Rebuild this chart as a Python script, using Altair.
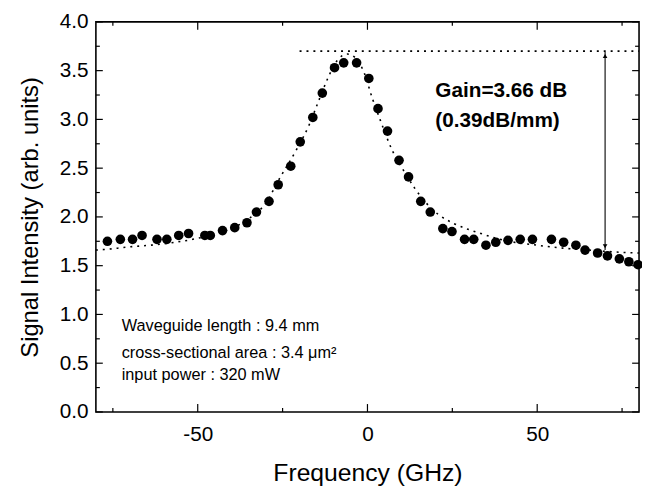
import altair as alt
import pandas as pd

# measured signal (GHz, arb. units)
freq = [-76.6, -72.8, -69.2, -66.4, -62.0, -59.1, -55.6, -52.7, -47.9, -46.3,
        -42.7, -39.1, -35.5, -32.7, -29.0, -26.3, -22.6, -19.8, -16.1, -13.3,
        -9.7, -7.0, -3.2, 0.4, 3.1, 5.9, 9.3, 12.1, 15.7, 18.5,
        22.2, 24.9, 28.6, 31.3, 34.9, 37.8, 41.4, 45.0, 48.6, 54.2,
        57.8, 61.4, 64.1, 67.8, 70.7, 74.2, 77.0, 79.7]
signal = [1.75, 1.77, 1.77, 1.81, 1.77, 1.77, 1.81, 1.83, 1.81, 1.81,
          1.86, 1.89, 1.94, 2.05, 2.16, 2.33, 2.52, 2.77, 3.02, 3.27,
          3.53, 3.58, 3.58, 3.42, 3.11, 2.88, 2.58, 2.41, 2.16, 2.05,
          1.88, 1.85, 1.77, 1.77, 1.71, 1.74, 1.76, 1.77, 1.77, 1.77,
          1.74, 1.71, 1.66, 1.63, 1.60, 1.57, 1.54, 1.51]

# dotted fit curve
fit_x = [-80, -77.7, -70.9, -61.2, -51.5, -41.8, -35.0, -30.0, -25.8, -20.9,
         -17.1, -14.6, -11.7, -8.8, -5.9, -3.5, -1.1, 1.4, 3.8, 7.2,
         11.1, 14.0, 20.7, 25.6, 33.4, 40.3, 50.0, 57.6, 65.4, 73.1, 80]
fit_y = [1.66, 1.665, 1.69, 1.72, 1.77, 1.86, 1.98, 2.14, 2.40, 2.69,
         2.95, 3.17, 3.42, 3.61, 3.67, 3.63, 3.49, 3.22, 2.99, 2.69,
         2.45, 2.29, 2.03, 1.93, 1.83, 1.76, 1.71, 1.68, 1.66, 1.64, 1.63]

# gain reference line and arrow
ref_x = [-20, 80]
ref_y = 3.70
arrow_x = 70
arrow_top = 3.69
arrow_bottom = 1.66

# ticks
x_major = [-50, 0, 50]
x_minor = [-75, -25, 25, 75]
y_major = [0.0, 0.5, 1.0, 1.5, 2.0, 2.5, 3.0, 3.5, 4.0]
y_minor = [0.25, 0.75, 1.25, 1.75, 2.25, 2.75, 3.25, 3.75]

# annotations
gain_lines = ["Gain=3.66 dB", "(0.39dB/mm)"]
gain_x = [20, 20]
gain_y = [3.29, 2.98]
info_lines = ["Waveguide length : 9.4 mm",
              "cross-sectional area : 3.4 \u03bcm\u00b2",
              "input power : 320 mW"]
info_x = [-72.4, -72.4, -72.4]
info_y = [0.88, 0.60, 0.38]

W, H = 550, 395
xs = alt.Scale(domain=[-80, 80], nice=False, zero=False)
ys = alt.Scale(domain=[0, 4], nice=False, zero=False)
FONT = "Liberation Sans"

pts = alt.Chart(pd.DataFrame({"f": freq, "s": signal})).mark_circle(
    size=95, color="black", opacity=1
).encode(
    x=alt.X("f:Q", scale=xs, title="Frequency (GHz)",
            axis=alt.Axis(values=x_major, labelExpr="datum.value + ''", ticks=False,
                          domain=False, grid=False, labelFontSize=21, labelPadding=12,
                          titleFontSize=25, titleFontWeight="normal", titlePadding=16)),
    y=alt.Y("s:Q", scale=ys, title="Signal Intensity (arb. units)",
            axis=alt.Axis(values=y_major, format=".1f", ticks=False, domain=False,
                          grid=False, labelFontSize=21, labelPadding=8,
                          titleFontSize=24, titleFontWeight="normal", titlePadding=17)),
)

fit = alt.Chart(pd.DataFrame({"f": fit_x, "s": fit_y})).mark_line(
    color="black", strokeDash=[2, 5], strokeWidth=1.6, interpolate="monotone"
).encode(x=alt.X("f:Q", scale=xs), y=alt.Y("s:Q", scale=ys))

ref = alt.Chart(pd.DataFrame({"f": ref_x, "s": [ref_y, ref_y]})).mark_line(
    color="black", strokeDash=[2, 5], strokeWidth=1.6
).encode(x=alt.X("f:Q", scale=xs), y=alt.Y("s:Q", scale=ys))

arrow = alt.Chart(pd.DataFrame({"f": [arrow_x], "a": [arrow_top], "b": [arrow_bottom]})).mark_rule(
    color="black", strokeWidth=1.1
).encode(x=alt.X("f:Q", scale=xs), y=alt.Y("a:Q", scale=ys), y2="b:Q")

head_up = alt.Chart(pd.DataFrame({"f": [arrow_x], "s": [arrow_top - 0.04]})).mark_point(
    shape="triangle-up", filled=True, color="black", size=22, opacity=1
).encode(x=alt.X("f:Q", scale=xs), y=alt.Y("s:Q", scale=ys))
head_down = alt.Chart(pd.DataFrame({"f": [arrow_x], "s": [arrow_bottom + 0.04]})).mark_point(
    shape="triangle-down", filled=True, color="black", size=22, opacity=1
).encode(x=alt.X("f:Q", scale=xs), y=alt.Y("s:Q", scale=ys))

gain = alt.Chart(pd.DataFrame({"t": gain_lines, "f": gain_x, "s": gain_y})).mark_text(
    align="left", baseline="middle", font=FONT, fontSize=21, fontWeight="bold", color="black"
).encode(x=alt.X("f:Q", scale=xs), y=alt.Y("s:Q", scale=ys), text="t:N")

info = alt.Chart(pd.DataFrame({"t": info_lines, "f": info_x, "s": info_y})).mark_text(
    align="left", baseline="middle", font=FONT, fontSize=16.5, color="black"
).encode(x=alt.X("f:Q", scale=xs), y=alt.Y("s:Q", scale=ys), text="t:N")

def xticks(vals, length, top):
    y1, y2 = (0, length) if top else (H, H - length)
    return alt.Chart(pd.DataFrame({"v": vals})).mark_rule(color="black", strokeWidth=1.2).encode(
        x=alt.X("v:Q", scale=xs), y=alt.value(y1), y2=alt.value(y2))

def yticks(vals, length, left):
    x1, x2 = (0, length) if left else (W, W - length)
    return alt.Chart(pd.DataFrame({"v": vals})).mark_rule(color="black", strokeWidth=1.2).encode(
        y=alt.Y("v:Q", scale=ys), x=alt.value(x1), x2=alt.value(x2))

tick_layers = [xticks(x_major, 8, False), xticks(x_minor, 4, False),
               xticks(x_major, 8, True), xticks(x_minor, 4, True),
               yticks(y_major, 7, True), yticks(y_minor, 4, True),
               yticks(y_major, 7, False), yticks(y_minor, 4, False)]

chart = alt.layer(fit, ref, arrow, head_up, head_down, pts, gain, info, *tick_layers).properties(
    width=W, height=H,
    autosize=alt.AutoSizeParams(type="none"),
    padding={"left": 89, "top": 11, "right": 3, "bottom": 78},
).configure_view(stroke="black", strokeWidth=1.6).configure_axis(
    labelFont=FONT, titleFont=FONT, labelColor="black", titleColor="black"
)

chart.save("out.html", embed_options={"renderer": "svg", "actions": False})
